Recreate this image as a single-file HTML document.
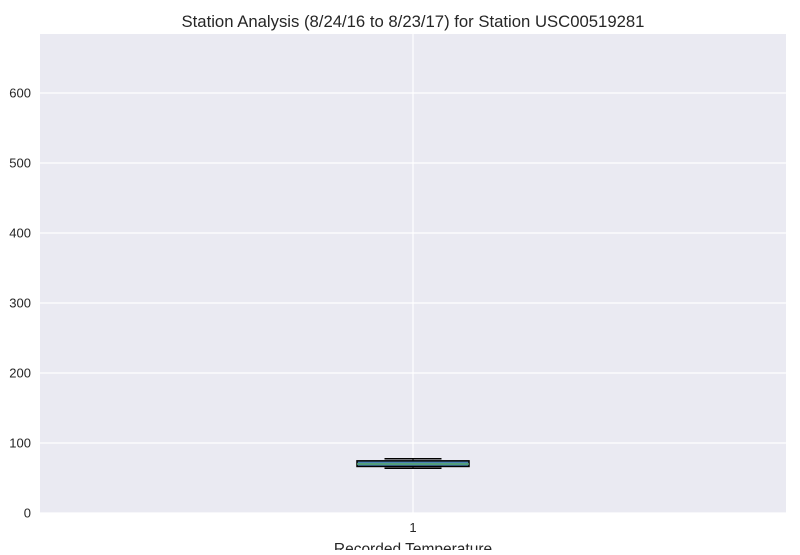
<!DOCTYPE html>
<html><head><meta charset="utf-8"><style>
body{margin:0;background:#fff;font-family:"Liberation Sans",sans-serif;}
svg text{font-family:"Liberation Sans",sans-serif;fill:#262626;}
</style></head><body>
<svg id="chart" width="800" height="550">
<text x="413" y="27" font-size="16.7" text-anchor="middle">Station Analysis (8/24/16 to 8/23/17) for Station USC00519281</text>
<rect x="40" y="34" width="746" height="479" fill="#eaeaf2"/>
<g id="grid"></g><g id="box"></g>
<text x="413" y="554" font-size="15.5" text-anchor="middle">Recorded Temperature</text>
</svg>
<script>
const yTicks=[0,100,200,300,400,500,600];
const xCategories=["1"];
const whiskerLow=[64];
const q1=[66.5];
const median=[70];
const q3=[74.5];
const whiskerHigh=[77.5];
const Y0=513,Y1=34,YMAX=684.3,X0=40,X1=786;
const y=v=>Y0-(v/YMAX)*(Y0-Y1);
const x=i=>X0+(i+0.5)*(X1-X0)/xCategories.length;
const NS="http://www.w3.org/2000/svg";
function mk(t,a,p){const e=document.createElementNS(NS,t);for(const k in a)e.setAttribute(k,a[k]);p.appendChild(e);return e;}
const g=document.getElementById('grid'),b=document.getElementById('box');
yTicks.forEach(v=>{
 const l=mk('line',{x1:X0,x2:X1,y1:y(v),y2:y(v),stroke:'#fff','stroke-width':1.2},g);
 
 
 const t=mk('text',{x:31,y:y(v)+4.5,'font-size':13,'text-anchor':'end'},g);t.textContent=v;
 
 
});
xCategories.forEach((c,i)=>{
 const cx=x(i);
 const l=mk('line',{x1:cx,x2:cx,y1:Y1,y2:Y0,stroke:'#fff','stroke-width':1.2},g);
 
 
 const t=mk('text',{x:cx,y:532,'font-size':13,'text-anchor':'middle'},g);t.textContent=c;
 
 
 const bw=112,cw=57;
 const w1=mk('line',{x1:cx,x2:cx,y1:y(whiskerLow[i]),y2:y(whiskerHigh[i]),stroke:'#000','stroke-width':1},b);
 
 
 [whiskerLow[i],whiskerHigh[i]].forEach(v=>{
  const cp=mk('line',{x1:cx-cw/2,x2:cx+cw/2,y1:y(v),y2:y(v),stroke:'#000','stroke-width':1.5},b);
  
  
 });
 const r=mk('rect',{x:cx-bw/2,y:y(q3[i]),width:bw,height:y(q1[i])-y(q3[i]),fill:'#4c81b5',stroke:'#000','stroke-width':1.5},b);
 
 
 const m=mk('line',{x1:cx-bw/2,x2:cx+bw/2,y1:y(median[i]),y2:y(median[i]),stroke:'#55a868','stroke-width':1.5},b);
 
 
});
</script>
</body></html>
